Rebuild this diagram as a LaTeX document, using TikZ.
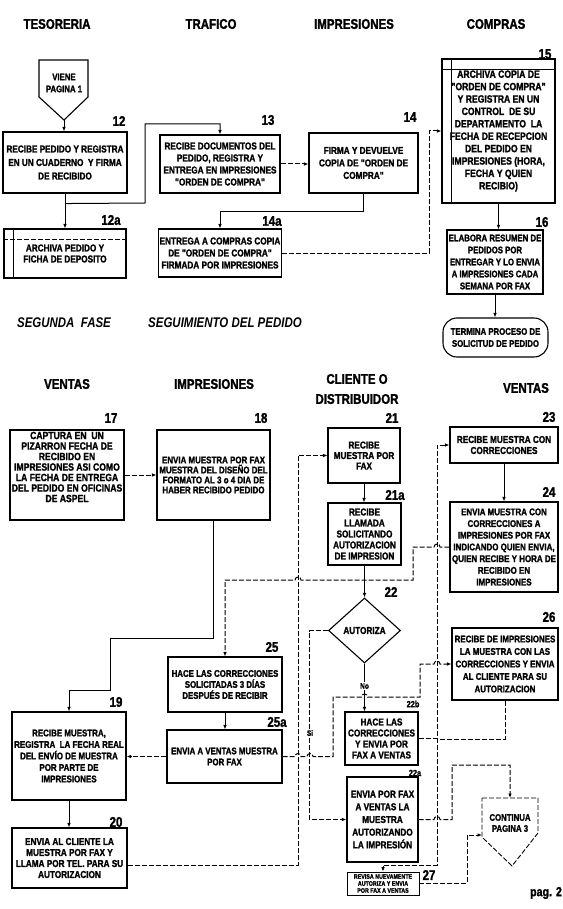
\documentclass[tikz,border=0pt]{standalone}
\usepackage{fontspec}
\setmainfont{Liberation Sans}
\newfontfamily\condfont{Liberation Sans}[FakeStretch=0.82,BoldFeatures={FakeBold=1.5}]
\usetikzlibrary{arrows.meta,shapes.geometric,calc}
\newcommand\bxf[2]{\condfont\bfseries\fontsize{#1}{#2}\selectfont}

\begin{document}
\begin{tikzpicture}[x=1pt,y=-1pt,
  box/.style={draw,line width=1.1pt,inner sep=1pt,align=center,font=\bxf{10}{11}},
  txt/.style={inner sep=0pt,align=center},
  num/.style={inner sep=0pt,font=\bxf{14}{14}},
  small/.style={inner sep=0pt,font=\bxf{9}{9}},
  head/.style={inner sep=0pt,align=center,font=\bxf{14}{20}},
  phase/.style={inner sep=0pt,font={\bxf{14}{14}\itshape}},
  ln/.style={line width=1pt},
  arr/.style={-{Latex[length=4.5pt,width=3.6pt]}},
  dsh/.style={dash pattern=on 5pt off 2pt},
  tag/.style={inner sep=0.8pt,fill=white,font=\bxf{8}{8}},
]
\fill[white] (0,0) rectangle (562,909);
\useasboundingbox (0,0) rectangle (562,909);

% ---------- first phase: column headings ----------
\node[head] (hTes) at (57,24) {TESORERIA};
\node[head] (hTra) at (211,24) {TRAFICO};
\node[head] (hImp) at (354,24) {IMPRESIONES};
\node[head] (hCom) at (496,24) {COMPRAS};

% off-page connector coming from page 1
\draw[line width=1.1pt] (39,60) -- (88,60) -- (88,97) -- (64,120) -- (39,97) -- cycle;
\coordinate (vtip) at (64,120);
\node[txt,font=\bxf{9.5}{12}] (viene) at (64,83) {VIENE\\PAGINA 1};

% ---------- first phase: steps ----------
\node[box,minimum width=124pt,minimum height=61pt,font=\bxf{10}{13.5}] (b12) at (65,162.5)
  {RECIBE PEDIDO Y REGISTRA\\EN UN CUADERNO\ \ Y FIRMA\\DE RECIBIDO};
\node[num] (n12) at (119,121) {12};

\node[box,minimum width=122pt,minimum height=49pt] (b12a) at (65,253.5)
  {ARCHIVA PEDIDO Y\\FICHA DE DEPOSITO};
\draw[line width=0.8pt] ([xshift=10pt]b12a.north west) -- ([xshift=10pt]b12a.south west);
\draw[line width=0.8pt,dsh] ([yshift=-11pt]b12a.north west) -- ([yshift=-11pt]b12a.north east);
\node[num] (n12a) at (111,220) {12a};

\node[box,minimum width=120pt,minimum height=58pt,font=\bxf{10}{12}] (b13) at (220,164)
  {RECIBE DOCUMENTOS DEL\\PEDIDO, REGISTRA Y\\ENTREGA EN IMPRESIONES\\"ORDEN DE COMPRA"};
\node[num] (n13) at (268,120) {13};

\node[box,minimum width=109pt,minimum height=60pt,font=\bxf{10}{12.5}] (b14) at (363.5,163)
  {FIRMA Y DEVUELVE\\COPIA DE "ORDEN DE\\COMPRA"};
\node[num] (n14) at (410,117) {14};

\node[box,minimum width=120pt,minimum height=48pt,font=\bxf{10}{12}] (b14a) at (220,253)
  {ENTREGA A COMPRAS COPIA\\DE "ORDEN DE COMPRA"\\FIRMADA POR IMPRESIONES};
\node[num] (n14a) at (272,221) {14a};

\node[box,minimum width=113pt,minimum height=144pt,font=\bxf{10.5}{12.4}] (b15) at (498.5,131)
  {ARCHIVA COPIA DE\\"ORDEN DE COMPRA"\\Y REGISTRA EN UN\\CONTROL\ \ DE SU\\DEPARTAMENTO\ \ LA\\FECHA DE RECEPCION\\DEL PEDIDO EN\\IMPRESIONES (HORA,\\FECHA Y QUIEN\\RECIBIO)};
\draw[line width=0.8pt] ([xshift=10pt]b15.north west) -- ([xshift=10pt]b15.south west);
\draw[line width=0.8pt] ([yshift=-11pt]b15.north west) -- ([yshift=-11pt]b15.north east);
\node[num] (n15) at (545,54) {15};

\node[box,minimum width=96pt,minimum height=64pt,font=\bxf{9.5}{12}] (b16) at (495,262)
  {ELABORA RESUMEN DE\\PEDIDOS POR\\ENTREGAR Y LO ENVIA\\A IMPRESIONES CADA\\SEMANA POR FAX};
\node[num] (n16) at (542,222) {16};

\node[draw,line width=1.1pt,rounded corners=14pt,minimum width=105pt,minimum height=39pt,
      align=center,inner sep=1pt,font=\bxf{9.5}{12}] (term) at (495.5,337.5)
  {TERMINA PROCESO DE\\SOLICITUD DE PEDIDO};

% ---------- first phase: connectors ----------
\draw[ln,arr] (vtip) -- (vtip |- b12.north);
\draw[ln,arr] (b12.south) -- (b12.south |- b12a.north);
\draw[ln,arr] (b12.south) ++(0,10) -- (145,203) |- (220,124) -- (b13.north);
\draw[ln,dsh,arr] (b13.east) -- (b13.east -| b14.west);
\draw[ln,arr] (b14.south) |- (220,212) -- (b14a.north);
\draw[ln,dsh,arr] (b14a.east) -| (429,131) -- (b15.west);
\draw[ln,arr] (b15.south) -- (b15.south |- b16.north);
\draw[ln,arr] (b16.south) -- (b16.south |- term.north);

% ---------- second phase ----------
\node[phase] (ph1) at (64,323) {SEGUNDA\ \ FASE};
\node[phase] (ph2) at (225,323) {SEGUIMIENTO DEL PEDIDO};

\node[head] (hVen) at (67,384) {VENTAS};
\node[head] (hImp2) at (214,384) {IMPRESIONES};
\node[head] (hCli) at (357,389) {CLIENTE O\\DISTRIBUIDOR};
\node[head] (hVen2) at (526,388) {VENTAS};

\node[box,minimum width=114pt,minimum height=90pt] (b17) at (67,475) {};
\node[txt,font=\bxf{10.5}{10.5}] (t17) at (67,467)
  {CAPTURA EN\ \ UN\\PIZARRON FECHA DE\\RECIBIDO EN\\IMPRESIONES ASI COMO\\LA FECHA DE ENTREGA\\DEL PEDIDO EN OFICINAS\\DE ASPEL};
\node[num] (n17) at (111,418) {17};

\node[box,minimum width=113pt,minimum height=90pt,font=\bxf{9.7}{10}] (b18) at (213.5,475)
  {ENVIA MUESTRA POR FAX\\MUESTRA DEL DISEÑO DEL\\FORMATO AL 3 o 4 DIA DE\\HABER RECIBIDO PEDIDO};
\node[num] (n18) at (261,418) {18};

\node[box,minimum width=114pt,minimum height=88pt,font=\bxf{9.7}{11.5}] (b19) at (69,756)
  {RECIBE MUESTRA,\\REGISTRA\ \ LA FECHA REAL\\DEL ENVÍO DE MUESTRA\\POR PARTE DE\\IMPRESIONES};
\node[num] (n19) at (116,702) {19};

\node[box,minimum width=115pt,minimum height=60pt,font=\bxf{10}{11}] (b20) at (69.5,858)
  {ENVIA AL CLIENTE LA\\MUESTRA POR FAX Y\\LLAMA POR TEL. PARA SU\\AUTORIZACION};
\node[num] (n20) at (116,822) {20};

\node[box,minimum width=114pt,minimum height=55pt,font=\bxf{9.6}{11}] (b25) at (225,684.5)
  {HACE LAS CORRECCIONES\\SOLICITADAS 3 DÍAS\\DESPUÉS DE RECIBIR};
\node[num] (n25) at (272,647) {25};

\node[box,minimum width=115pt,minimum height=53pt,font=\bxf{9.6}{11}] (b25a) at (224.5,756.5)
  {ENVIA A VENTAS MUESTRA\\POR FAX};
\node[num] (n25a) at (277,722) {25a};

\node[box,minimum width=72pt,minimum height=55pt,font=\bxf{10}{10.5}] (b21) at (364,455.5)
  {RECIBE\\MUESTRA POR\\FAX};
\node[num] (n21) at (392,418) {21};

\node[box,minimum width=73pt,minimum height=62pt,font=\bxf{10}{11}] (b21a) at (364.5,534)
  {RECIBE\\LLAMADA\\SOLICITANDO\\AUTORIZACION\\DE IMPRESION};
\node[num] (n21a) at (395,495) {21a};

\node[draw,diamond,aspect=1.1,line width=1.1pt,minimum width=72pt,minimum height=65pt,
      inner sep=0pt,font=\bxf{10}{10}] (d22) at (364.5,630.5) {AUTORIZA};
\node[num] (n22) at (391,592) {22};

\node[box,minimum width=73pt,minimum height=53pt,font=\bxf{10}{11}] (b22b) at (381.5,738.5)
  {HACE LAS\\CORRECCIONES\\Y ENVIA POR\\FAX A VENTAS};
\node[small] (n22b) at (413,704) {22b};

\node[box,minimum width=71pt,minimum height=85pt,font=\bxf{10}{12.7}] (b22a) at (382.5,819.5)
  {ENVIA POR FAX\\A VENTAS LA\\MUESTRA\\AUTORIZANDO\\LA IMPRESIÓN};
\node[small] (n22a) at (415,773) {22a};

\node[box,line width=0.8pt,minimum width=72pt,minimum height=23pt,font=\bxf{6.5}{7}] (b27) at (383,883.5)
  {REVISA NUEVAMENTE\\AUTORIZA Y ENVIA\\POR FAX A VENTAS};
\node[num] (n27) at (429,875) {27};

\node[box,minimum width=108pt,minimum height=36pt,font=\bxf{10}{11}] (b23) at (504,445)
  {RECIBE MUESTRA CON\\CORRECCIONES};
\node[num] (n23) at (549,417) {23};

\node[box,minimum width=108pt,minimum height=90pt,font=\bxf{9.7}{11.7}] (b24) at (504,547)
  {ENVIA MUESTRA CON\\CORRECCIONES A\\IMPRESIONES POR FAX\\INDICANDO QUIEN ENVIA,\\QUIEN RECIBE Y HORA DE\\RECIBIDO EN\\IMPRESIONES};
\node[num] (n24) at (549,492) {24};

\node[box,minimum width=106pt,minimum height=72pt,font=\bxf{9.7}{12.5}] (b26) at (505,664)
  {RECIBE DE IMPRESIONES\\LA MUESTRA CON LAS\\CORRECCIONES Y ENVIA\\AL CLIENTE PARA SU\\AUTORIZACION};
\node[num] (n26) at (549,617) {26};

% off-page connector towards page 3
\draw[line width=0.9pt,dsh] (482,798) -- (538,798) -- (538,833) -- (512,866) -- (482,837) -- cycle;
\coordinate (ctop) at (510,798);
\coordinate (cleft) at (482,835);
\node[txt,font=\bxf{9.5}{11}] (cont) at (510,823) {CONTINUA\\PAGINA 3};

\node[txt,font=\bxf{13}{13}] (pag) at (546,893) {pag. 2};

% ---------- second phase: connectors ----------
\draw[ln,dsh,arr] (b17.east) -- (b18.west);
\draw[ln,arr] (b18.south) |- (110,638) -- (110,690) -| (b19.north);
\draw[ln,arr] (b19.south) -- (b19.south |- b20.north);
\draw[ln,arr] (b25.south) -- (b25.south |- b25a.north);
\draw[ln,dsh,arr] (b25a.west) -- (b25a.west -| b19.east);
\draw[ln,dsh,arr] ([yshift=-7pt]b20.east) -| (298,455.5) -- (b21.west);
\draw[ln,arr] (b21.south) -- (b21.south |- b21a.north);
\draw[ln,arr] (b21a.south) -- (b21a.south |- d22.north);
\draw[ln,arr] (d22.south) -- (d22.south |- b22b.north);
\draw[ln,dsh,arr] (d22.west) -| ($(b22a.west)+(-37,0)$) -- (b22a.west);
\draw[ln,arr] (b23.south) -- (b23.south |- b24.north);
\draw[ln,dsh,arr] (b24.west) -- (440,547) arc[start angle=0,end angle=180,radius=3pt]
  -- (413,547) -- (413,580) -- (301,580) arc[start angle=0,end angle=180,radius=3pt]
  -| (b25.north);
\draw[ln,dsh,arr] (b25a.east) -- (295,756.5) arc[start angle=180,end angle=0,radius=3pt]
  -- (307,756.5) arc[start angle=180,end angle=0,radius=3pt]
  -- (333,756.5) -- (333,697) -- (361.5,697) arc[start angle=180,end angle=0,radius=3pt]
  -- (420,697) -- (420,664) -- (434,664) arc[start angle=180,end angle=0,radius=3pt]
  -- (b26.west);
\draw[ln,dsh,arr] (b22b.east) -| (437,445) -- (b23.west);
\draw[ln,dsh,arr] (b26.south) |- (437,739) -- (437,865) -| (b27.north);
\draw[ln,dsh,arr] (b22a.east) -- (434,819.5) arc[start angle=180,end angle=0,radius=3pt]
  -- (452,819.5) -- (452,765) -| (ctop);
\draw[ln,dsh,arr] (b27.east) -| (467,835) -- (cleft);

% branch labels
\node[tag] (tNo) at (364.5,686) {No};
\node[tag] (tSi) at (310,733) {Si};
\end{tikzpicture}
\end{document}
